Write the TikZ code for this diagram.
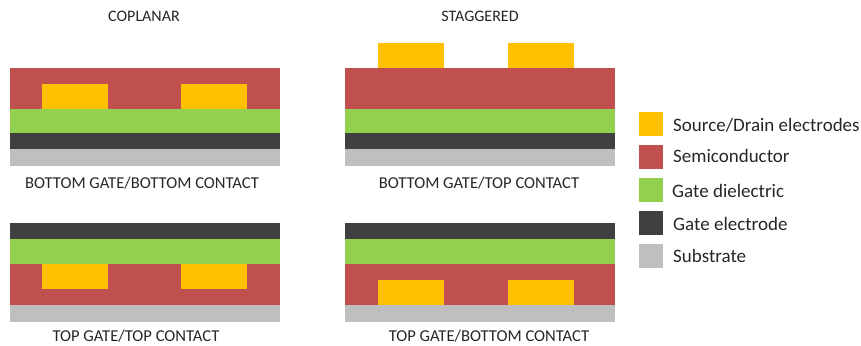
\documentclass[tikz,border=0pt]{standalone}
\usepackage{fontspec}
\setmainfont{Carlito}
\definecolor{sdcol}{HTML}{FFC000}
\definecolor{semicol}{HTML}{C0504D}
\definecolor{dielcol}{HTML}{92D050}
\definecolor{gatecol}{HTML}{404040}
\definecolor{subcol}{HTML}{BFBFBF}
\definecolor{txtcol}{HTML}{262626}
\begin{document}
\begin{tikzpicture}[x=1pt,y=-1pt,
  lay/.style={fill=#1,draw=none},
  titletxt/.style={anchor=base,inner sep=0pt,text=txtcol,font=\fontsize{16}{18}\selectfont},
  captxt/.style={anchor=base,inner sep=0pt,text=txtcol,font=\fontsize{16.6}{18}\selectfont},
  legtxt/.style={anchor=base west,inner sep=0pt,text=txtcol,font=\fontsize{19}{22}\selectfont},
  legbox/.style={fill=#1,draw=none,minimum width=24pt,minimum height=24pt,inner sep=0pt,anchor=north west}]
\useasboundingbox (0,0) rectangle (861,345);
% Panel 1: bottom gate / bottom contact
\fill[lay=subcol] (10,149) rectangle (280,166);
\fill[lay=gatecol] (10,133) rectangle (280,149);
\fill[lay=dielcol] (10,109) rectangle (280,133);
\fill[lay=semicol] (10,68) rectangle (280,109);
\fill[lay=sdcol] (42,84) rectangle (108,109);
\fill[lay=sdcol] (181,84) rectangle (247,109);
% Panel 2: bottom gate / top contact
\fill[lay=subcol] (345,149) rectangle (615,166);
\fill[lay=gatecol] (345,133) rectangle (615,149);
\fill[lay=dielcol] (345,109) rectangle (615,133);
\fill[lay=semicol] (345,68) rectangle (615,109);
\fill[lay=sdcol] (378,43) rectangle (444,68);
\fill[lay=sdcol] (508,43) rectangle (574,68);
% Panel 3: top gate / top contact
\fill[lay=gatecol] (10,223) rectangle (280,239);
\fill[lay=dielcol] (10,239) rectangle (280,264);
\fill[lay=semicol] (10,264) rectangle (280,305);
\fill[lay=subcol] (10,305) rectangle (280,322);
\fill[lay=sdcol] (42,264) rectangle (108,289);
\fill[lay=sdcol] (181,264) rectangle (247,289);
% Panel 4: top gate / bottom contact
\fill[lay=gatecol] (345,223) rectangle (615,239);
\fill[lay=dielcol] (345,239) rectangle (615,264);
\fill[lay=semicol] (345,264) rectangle (615,305);
\fill[lay=subcol] (345,305) rectangle (615,322);
\fill[lay=sdcol] (378,280) rectangle (444,305);
\fill[lay=sdcol] (508,280) rectangle (574,305);
% Titles and captions
\node[titletxt] (t1) at (144,22) {COPLANAR};
\node[titletxt] (t2) at (480,22) {STAGGERED};
\node[captxt] (c1) at (142,188) {BOTTOM GATE/BOTTOM CONTACT};
\node[captxt] (c2) at (479,188) {BOTTOM GATE/TOP CONTACT};
\node[captxt] (c3) at (136,341) {TOP GATE/TOP CONTACT};
\node[captxt] (c4) at (489,341) {TOP GATE/BOTTOM CONTACT};
% Legend
\node[legbox=sdcol] (k1) at (639,112) {};
\node[legbox=semicol] (k2) at (639,145) {};
\node[legbox=dielcol] (k3) at (639,178) {};
\node[legbox=gatecol] (k4) at (639,211) {};
\node[legbox=subcol] (k5) at (639,244) {};
\node[legtxt] (l1) at (673,131) {Source/Drain electrodes};
\node[legtxt] (l2) at (673,162) {Semiconductor};
\node[legtxt] (l3) at (672,197) {Gate dielectric};
\node[legtxt] (l4) at (673,230) {Gate electrode};
\node[legtxt] (l5) at (673,262) {Substrate};
\end{tikzpicture}
\end{document}
